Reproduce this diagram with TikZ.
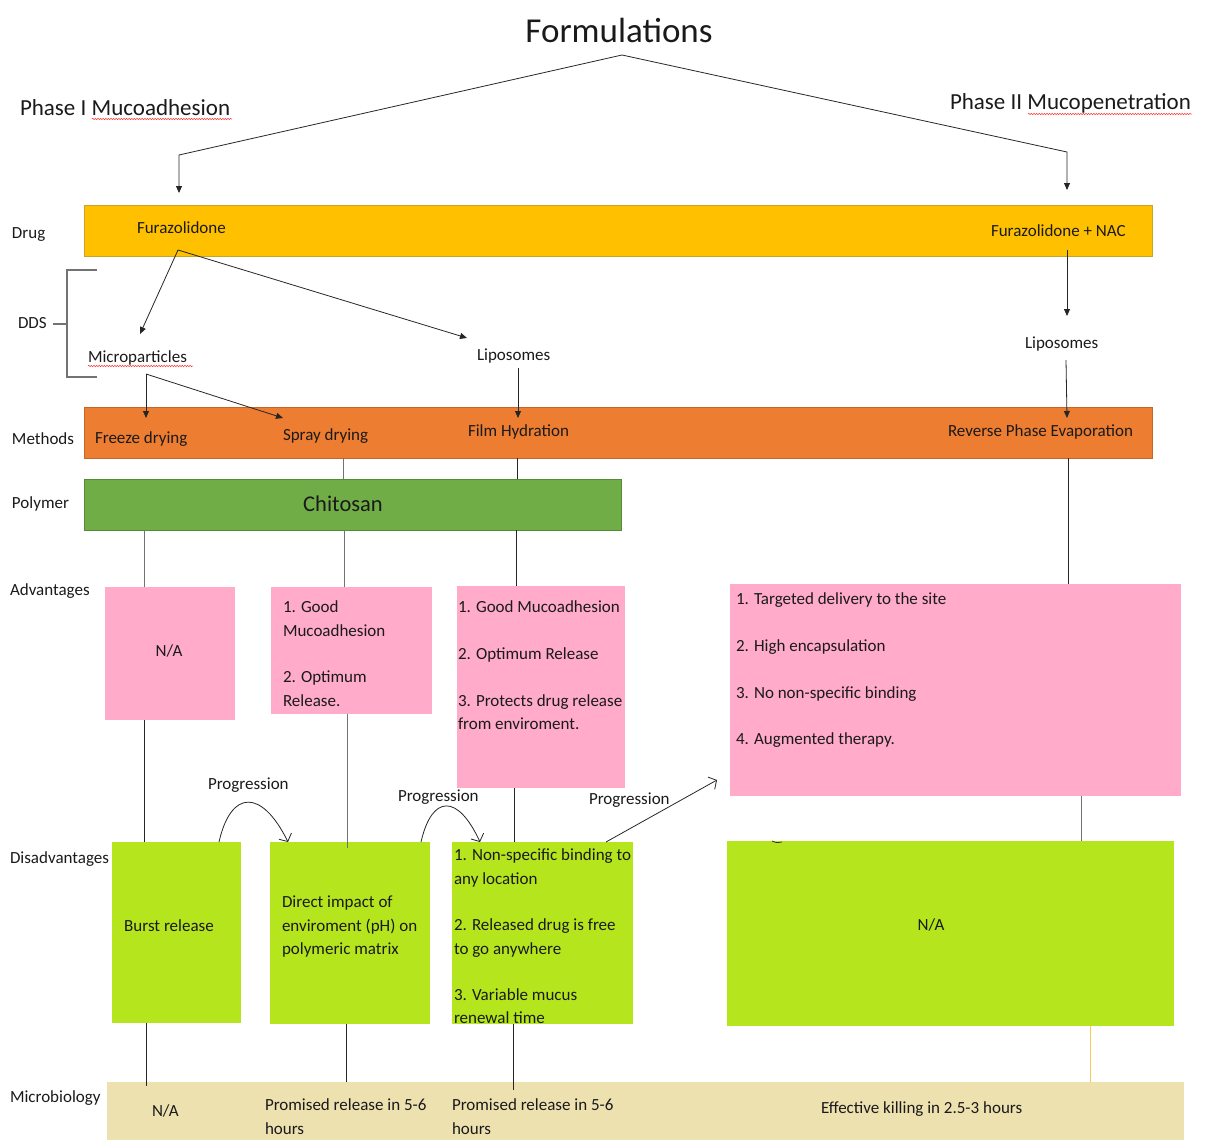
\documentclass[tikz,border=0pt]{standalone}
\usepackage{fontspec}
\setmainfont{Carlito}
\usetikzlibrary{arrows.meta,decorations.pathmorphing,calc}
\definecolor{drugY}{HTML}{FFC000}
\definecolor{drugYb}{HTML}{C9A227}
\definecolor{methO}{HTML}{ED7D31}
\definecolor{methOb}{HTML}{C5652A}
\definecolor{polyG}{HTML}{70AD47}
\definecolor{polyGb}{HTML}{558A36}
\definecolor{advP}{HTML}{FFABC9}
\definecolor{disL}{HTML}{B5E61D}
\definecolor{micT}{HTML}{EEE1B0}
\definecolor{lineY}{HTML}{F5CC55}
\definecolor{txtK}{HTML}{1A1A1A}
\begin{document}
\begin{tikzpicture}[x=1pt,y=-1pt,
  box/.style={rectangle, inner sep=0pt, outer sep=0pt, anchor=north west},
  txt/.style={inner sep=0pt, outer sep=0pt, text=txtK, align=left, font=\fontsize{17}{23.3}\selectfont},
  ln/.style={draw=black!85, line width=0.8pt},
  gln/.style={draw=black!55, line width=1pt},
  arr/.style={ln, -{Triangle[length=7pt,width=6pt]}},
  barb/.style={ln, -{Straight Barb[length=6pt,width=14pt]}},
  squig/.style={draw=red!80, line width=0.5pt, decorate, decoration={snake, amplitude=0.7pt, segment length=2.6pt}}
]
\useasboundingbox (0,0) rectangle (1211,1140);

% ---------- title and phases ----------
\node[inner sep=0pt, text=txtK, font=\fontsize{35}{40}\selectfont] (title) at (619,30) {Formulations};
\node[txt, anchor=base west, font=\fontsize{23}{27}\selectfont] (ph1) at (20,115) {Phase I Mucoadhesion};
\node[txt, anchor=base west, font=\fontsize{23}{27}\selectfont] (ph2) at (950,110) {Phase II Mucopenetration};
\draw[squig] (92,119) -- (232,119);
\draw[squig] (1028,114) -- (1192,114);

% ---------- bars ----------
\node[box, fill=drugY, draw=drugYb, line width=0.8pt, minimum width=1068pt, minimum height=51pt] (drug) at (84,205) {};
\node[box, fill=methO, draw=methOb, line width=0.8pt, minimum width=1068pt, minimum height=51pt] (meth) at (84,407) {};
\node[box, fill=polyG, draw=polyGb, line width=0.8pt, minimum width=537pt, minimum height=51pt] (chit) at (84,479) {};
\node[txt, font=\fontsize{22.5}{26}\selectfont] (chitT) at (343,504) {Chitosan};

% ---------- row labels ----------
\node[txt, anchor=base west] (lDrug) at (12,238) {Drug};
\node[txt, anchor=base west] (lDDS) at (18,328) {DDS};
\node[txt, anchor=base west] (lMeth) at (12,444) {Methods};
\node[txt, anchor=base west] (lPoly) at (12,508) {Polymer};
\node[txt, anchor=base west] (lAdv) at (10,595) {Advantages};
\node[txt, anchor=base west] (lDis) at (10,863) {Disadvantages};
\node[txt, anchor=base west] (lMic) at (10,1102) {Microbiology};

% DDS bracket
\coordinate (brT) at (97,270);
\coordinate (brB) at (97,377);
\coordinate (brX) at (67,0);
\draw[gln, line width=1.1pt] (brT) -- (brT -| brX) -- (brB -| brX) -- (brB);
\draw[gln, line width=1.1pt] ([xshift=6pt]lDDS.east |- 0,324) -- (brX |- 0,324);

% ---------- drug texts ----------
\node[txt, anchor=base west] (fura) at (137,233) {Furazolidone};
\node[txt, anchor=base west] (furaNAC) at (991,236) {Furazolidone + NAC};

% ---------- DDS ----------
\node[txt, anchor=base west] (micro) at (88,362) {Microparticles};
\draw[squig] (88,366) -- (193,366);
\node[txt, anchor=base west] (lipo) at (477,360) {Liposomes};
\node[txt, anchor=base west] (lipoR) at (1025,348) {Liposomes};

% ---------- methods ----------
\node[txt, anchor=base west] (freeze) at (95,443) {Freeze drying};
\node[txt, anchor=base west] (spray) at (283,440) {Spray drying};
\node[txt, anchor=base west] (film) at (468,436) {Film Hydration};
\node[txt, anchor=base west] (rev) at (948,436) {Reverse Phase Evaporation};

% ---------- advantages ----------
\node[box, fill=advP, minimum width=130pt, minimum height=133pt] (a1) at (105,587) {};
\node[box, fill=advP, minimum width=161pt, minimum height=127pt] (a2) at (271,587) {};
\node[box, fill=advP, minimum width=168pt, minimum height=202pt] (a3) at (457,586) {};
\node[box, fill=advP, minimum width=451pt, minimum height=212pt] (a4) at (730,584) {};
\node[txt] (a1t) at (169,651) {N/A};
\node[txt, anchor=north west] (a2t) at (283,601) {1. Good\\Mucoadhesion\\[23.3pt]2. Optimum\\Release.};
\node[txt, anchor=north west] (a3t) at (458,601) {1. Good Mucoadhesion\\[23.3pt]2. Optimum Release\\[23.3pt]3. Protects drug release\\from enviroment.};
\node[txt, anchor=north west] (a4t) at (736,593) {1. Targeted delivery to the site\\[23.3pt]2. High encapsulation\\[23.3pt]3. No non-specific binding\\[23.3pt]4. Augmented therapy.};

% ---------- disadvantages ----------
\node[box, fill=disL, minimum width=129pt, minimum height=181pt] (d1) at (112,842) {};
\node[box, fill=disL, minimum width=160pt, minimum height=182pt] (d2) at (270,842) {};
\node[box, fill=disL, minimum width=181pt, minimum height=182pt] (d3) at (452,842) {};
\node[box, fill=disL, minimum width=447pt, minimum height=185pt] (d4) at (727,841) {};
\node[txt] (d1t) at (169,926) {Burst release};
\node[txt, anchor=north west] (d2t) at (282,896) {Direct impact of\\enviroment (pH) on\\polymeric matrix};
\node[txt, anchor=north west] (d3t) at (454,849) {1. Non-specific binding to\\any location\\[23.3pt]2. Released drug is free\\to go anywhere\\[23.3pt]3. Variable mucus\\renewal time};
\node[txt] (d4t) at (931,925) {N/A};

% ---------- microbiology ----------
\node[box, fill=micT, minimum width=1077pt, minimum height=58pt] (mic) at (107,1082) {};
\node[txt, anchor=base west] (m1) at (152,1116) {N/A};
\node[txt, anchor=north west] (m2) at (265,1099) {Promised release in 5-6\\hours};
\node[txt, anchor=north west] (m3) at (452,1099) {Promised release in 5-6\\hours};
\node[txt, anchor=base west] (m4) at (821,1113) {Effective killing in 2.5-3 hours};

% ---------- connectors: title ----------
\coordinate (apex) at (622,55);
\coordinate (lbend) at (179,155);
\coordinate (rbend) at (1067,152);
\coordinate (lTip) at (179,193);
\coordinate (rTip) at (1067,190);
\draw[arr] (apex) -- (lbend) -- (lTip);
\draw[arr] (apex) -- (rbend) -- (rTip);

% drug -> DDS
\coordinate (furaTail) at (178,250);
\coordinate (microTip) at (140,334);
\coordinate (lipoTip) at (467,338);
\draw[arr] (furaTail) -- (microTip);
\draw[arr] (furaTail) -- (lipoTip);
\coordinate (nacTail) at (1067,250);
\coordinate (lipoRTip) at (1067,316);
\draw[arr] (nacTail) -- (lipoRTip);

% DDS -> methods
\coordinate (microTail) at (146,374);
\coordinate (freezeTip) at (146,418);
\coordinate (sprayTip) at (283,418);
\draw[arr] (microTail) -- (freezeTip);
\draw[arr] (microTail) -- (sprayTip);
\coordinate (lipoTail) at (518,368);
\coordinate (filmTip) at (518,418);
\draw[arr] (lipoTail) -- (filmTip);
\coordinate (lipoRTail) at (1066,360);
\coordinate (revTip) at (1067,418);
\draw[arr] (lipoRTail) -- (revTip);

% methods -> polymer / advantages
\coordinate (x343) at (343,0);
\coordinate (x517) at (517,0);
\coordinate (x1068) at (1068,0);
\draw[gln] (meth.south -| x343) -- (chit.north -| x343);
\draw[ln] (meth.south -| x517) -- (chit.north -| x517);
\draw[ln] (meth.south -| x1068) -- (a4.north -| x1068);

% polymer -> advantages
\coordinate (x144) at (144,0);
\coordinate (x344) at (344,0);
\coordinate (x516) at (516,0);
\draw[gln] (chit.south -| x144) -- (a1.north -| x144);
\draw[gln] (chit.south -| x344) -- (a2.north -| x344);
\draw[ln] (chit.south -| x516) -- (a3.north -| x516);

% advantages -> disadvantages
\coordinate (x347) at (347,0);
\coordinate (x514) at (514,0);
\coordinate (x1081) at (1081,0);
\draw[ln] (a1.south -| x144) -- (d1.north -| x144);
\draw[gln] (a2.south -| x347) -- ([yshift=-6pt]d2.north -| x347);
\draw[ln] (a3.south -| x514) -- (d3.north -| x514);
\draw[gln] (a4.south -| x1081) -- (d4.north -| x1081);

% disadvantages -> microbiology
\coordinate (x146) at (146,0);
\coordinate (x346) at (346,0);
\coordinate (x513) at (513,0);
\coordinate (x1090) at (1090,0);
\draw[ln] (d1.south -| x146) -- ([yshift=-4pt]mic.north -| x146);
\draw[ln] (d2.south -| x346) -- (mic.north -| x346);
\draw[ln] (d3.south -| x513) -- ([yshift=-8pt]mic.north -| x513);
\draw[draw=lineY, line width=1pt] (d4.south -| x1090) -- (mic.north -| x1090);

% ---------- progression arrows ----------
\node[txt, anchor=base west] (pr1) at (208,789) {Progression};
\node[txt, anchor=base west] (pr2) at (398,801) {Progression};
\node[txt, anchor=base west] (pr3) at (589,804) {Progression};
\coordinate (p1s) at (219,842);
\coordinate (p1e) at (288,842);
\coordinate (p2s) at (421,842);
\coordinate (p2e) at (480,842);
\coordinate (p3s) at (606,842);
\coordinate (p3e) at (717,780);
\draw[barb] (p1s) .. controls (231,789) and (262,789) .. (p1e);
\draw[barb] (p2s) .. controls (432,794) and (458,794) .. (p2e);
\draw[barb] (p3s) -- (p3e);
% small stray mark
\coordinate (sm1) at (772,841);
\coordinate (sm2) at (782,842);
\draw[draw=black!85, line width=0.7pt] (sm1) .. controls (776,843) and (779,843) .. (sm2);
\end{tikzpicture}
\end{document}
